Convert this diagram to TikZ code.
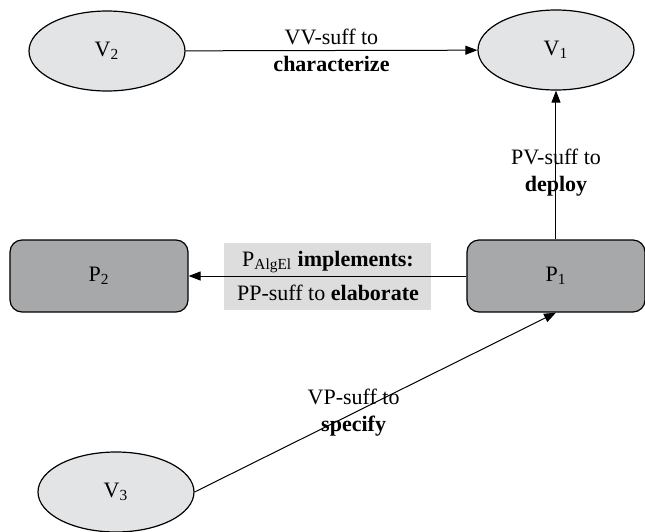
\documentclass[tikz,border=0pt]{standalone}
\usepackage{fontspec}
\setmainfont{Liberation Serif}
\usetikzlibrary{shapes.geometric,arrows.meta}
\definecolor{vfill}{RGB}{227,228,230}
\definecolor{pfill}{RGB}{167,168,170}
\definecolor{afill}{RGB}{221,221,222}

\begin{document}
\begin{tikzpicture}[x=0.5pt,y=-0.5pt,font=\fontsize{11}{13.5}\selectfont,
    vstate/.style ={ellipse, draw, fill=vfill, line width=0.6pt, inner sep=0pt, minimum width=78pt, minimum height=40pt},
    pstate/.style ={rectangle, rounded corners=6pt, draw, fill=pfill, line width=0.6pt, inner sep=0pt, minimum width=89pt, minimum height=36pt},
    annot/.style ={rectangle, fill=afill, align=center, inner sep=0pt, minimum width=103.5pt, minimum height=33.5pt},
    link/.style ={line width=0.5pt, -{Triangle[length=6pt,width=4.5pt]}},
    note/.style ={align=center, inner sep=0pt}]
   \useasboundingbox (0,0) rectangle (645,532);

   \node[vstate] (V2) at (107,51)  {V\textsubscript{2}};
   \node[vstate] (V1) at (556,50)  {V\textsubscript{1}};
   \node[vstate] (V3) at (116,492) {V\textsubscript{3}};
   \node[pstate] (P1) at (556,276) {P\textsubscript{1}};
   \node[pstate] (P2) at (99,276)  {P\textsubscript{2}};
   \node[annot]  (PA) at (328,276) {P\textsubscript{AlgEl} \textbf{implements:}\\[3.5pt]PP-suff to \textbf{elaborate}};

   \draw[link] (V2) to node[note] {VV-suff to\\\textbf{characterize}} (V1);
   \draw[link] (P1) to node[note, pos=0.45] {PV-suff to\\\textbf{deploy}} (V1);
   \draw[link] (P1) to (P2);
   \draw[link] (V3.east) to node[note, pos=0.44] {VP-suff to\\\textbf{specify}} (P1.south);
 \end{tikzpicture}
\end{document}
